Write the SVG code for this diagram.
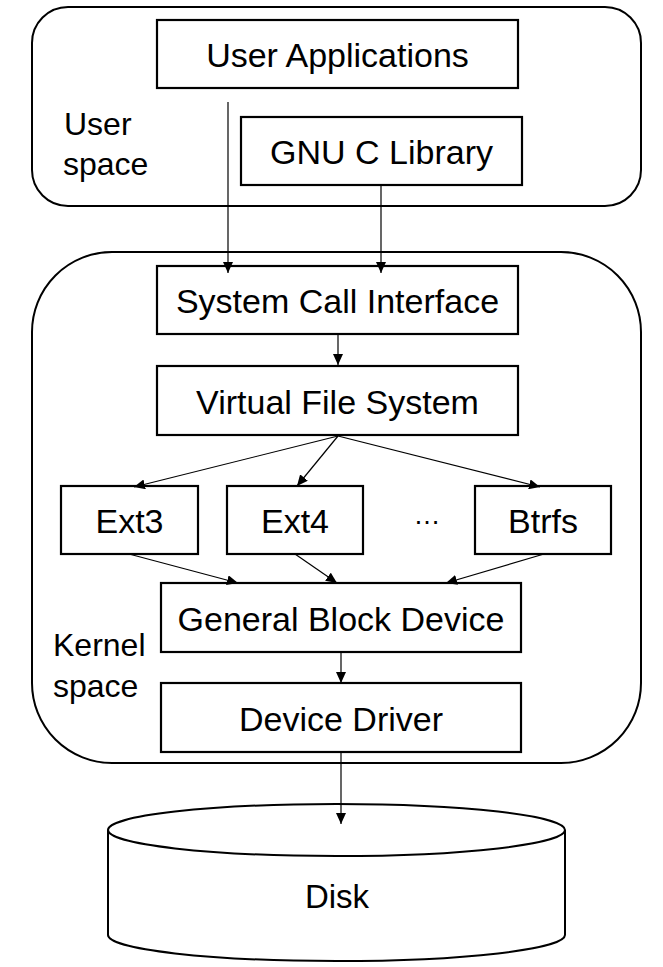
<svg xmlns="http://www.w3.org/2000/svg" width="663" height="967" viewBox="0 0 663 967">
<style>
.box{fill:#fff;stroke:#000;stroke-width:2.2}
.grp{fill:#fff;stroke:#000;stroke-width:2}
.t{font-family:"Liberation Sans",Arial,sans-serif;font-size:34px;fill:#000;text-anchor:middle}
.lbl{font-family:"Liberation Sans",Arial,sans-serif;font-size:32px;fill:#000}
.c{fill:none;stroke:#000;stroke-width:1.2}
</style>
<defs>
<marker id="ah" markerUnits="userSpaceOnUse" markerWidth="12" markerHeight="10" refX="11" refY="5" orient="auto">
<path d="M0,0 L11,5 L0,10 Z" fill="#000"/>
</marker>
</defs>
<rect fill="#fff" width="663" height="967"/>
<g id="user-space">
<rect class="grp" x="32" y="7" width="609" height="199" rx="36" ry="36"/>
<text class="lbl" x="64" y="135">User</text>
<text class="lbl" x="63" y="175">space</text>
</g>
<g id="kernel-space">
<rect class="grp" x="32" y="252" width="609" height="511" rx="80" ry="80"/>
<text class="lbl" x="53" y="656">Kernel</text>
<text class="lbl" x="53" y="697">space</text>
</g>
<g id="user-applications">
<rect class="box" x="157" y="20" width="361" height="68"/>
<text class="t" x="337.5" y="67">User Applications</text>
</g>
<g id="gnu-c-library">
<rect class="box" x="241" y="117" width="281" height="68"/>
<text class="t" x="381.5" y="164">GNU C Library</text>
</g>
<g id="system-call-interface">
<rect class="box" x="157" y="266" width="361" height="68"/>
<text class="t" x="337.5" y="313">System Call Interface</text>
</g>
<g id="virtual-file-system">
<rect class="box" x="157" y="366" width="361" height="69"/>
<text class="t" x="337.5" y="414">Virtual File System</text>
</g>
<g id="ext3">
<rect class="box" x="61" y="486" width="137" height="68"/>
<text class="t" x="129.5" y="533">Ext3</text>
</g>
<g id="ext4">
<rect class="box" x="227" y="486" width="136" height="68"/>
<text class="t" x="295" y="533">Ext4</text>
</g>
<g id="ellipsis">
<text class="t" x="427" y="524" style="font-size:27px">…</text>
</g>
<g id="btrfs">
<rect class="box" x="475" y="486" width="136" height="68"/>
<text class="t" x="543" y="533">Btrfs</text>
</g>
<g id="general-block-device">
<rect class="box" x="161" y="583" width="360" height="69"/>
<text class="t" x="341" y="631">General Block Device</text>
</g>
<g id="device-driver">
<rect class="box" x="161" y="683" width="360" height="69"/>
<text class="t" x="341" y="731">Device Driver</text>
</g>
<g id="disk">
<path class="grp" d="M108,830 L108,935 A228.5,26 0 0 0 565,935 L565,830"/>
<ellipse class="grp" cx="336.5" cy="830" rx="228.5" ry="26"/>
<text class="t" x="337" y="908" style="font-size:33px">Disk</text>
</g>
<g id="connectors">
<line class="c" x1="228" y1="102" x2="228" y2="273" marker-end="url(#ah)"/>
<line class="c" x1="381" y1="186" x2="381" y2="273" marker-end="url(#ah)"/>
<line class="c" x1="338" y1="335" x2="338" y2="365" marker-end="url(#ah)"/>
<line class="c" x1="338" y1="436" x2="134" y2="487" marker-end="url(#ah)"/>
<line class="c" x1="338" y1="436" x2="297" y2="486" marker-end="url(#ah)"/>
<line class="c" x1="338" y1="436" x2="540" y2="487" marker-end="url(#ah)"/>
<line class="c" x1="129" y1="554" x2="238" y2="583" marker-end="url(#ah)"/>
<line class="c" x1="295" y1="554" x2="337" y2="583" marker-end="url(#ah)"/>
<line class="c" x1="544" y1="554" x2="446" y2="583" marker-end="url(#ah)"/>
<line class="c" x1="341" y1="652" x2="341" y2="683" marker-end="url(#ah)"/>
<line class="c" x1="341" y1="752" x2="341" y2="824" marker-end="url(#ah)"/>
</g>
</svg>
